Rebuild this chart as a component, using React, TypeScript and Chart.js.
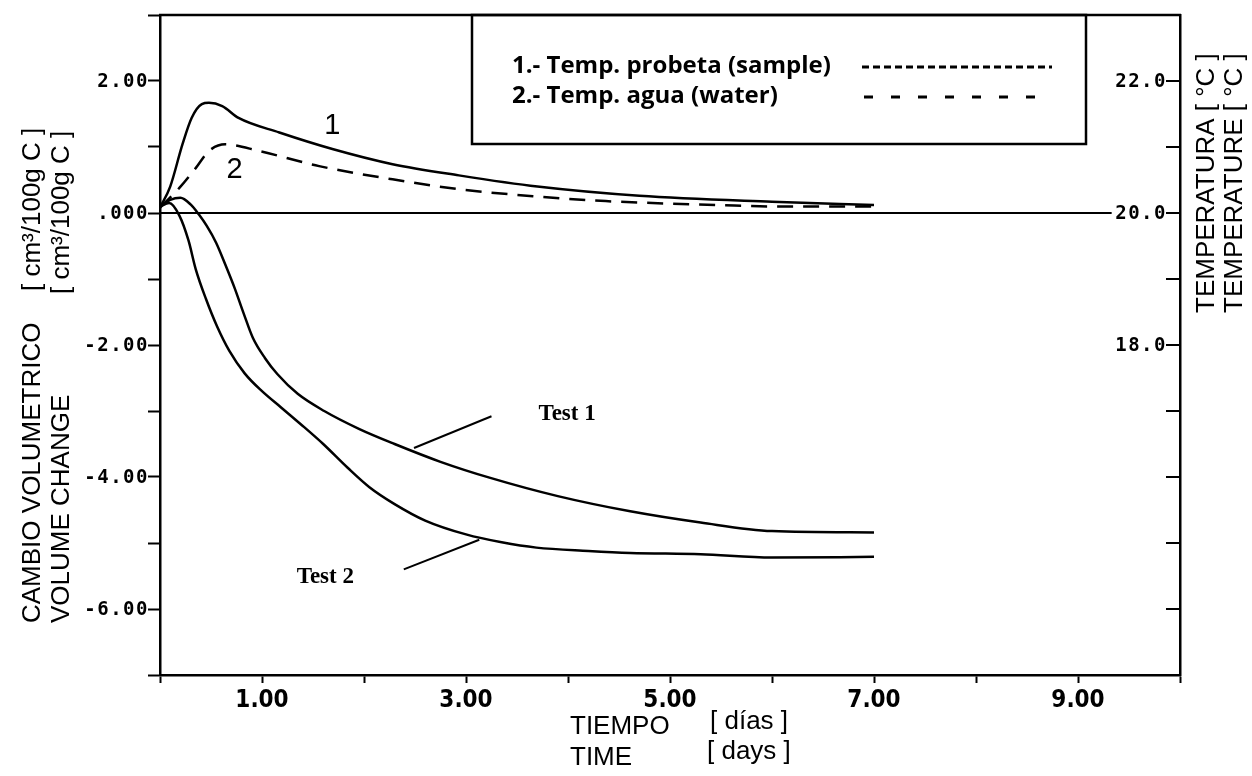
import React, { useEffect, useRef } from 'react';
import { Chart, registerables, Plugin } from 'chart.js';

Chart.register(...registerables);

// volume change, cm3/100g C, against time in days
const test1Days = [0, 0.1, 0.2, 0.3, 0.38, 0.46, 0.55, 0.64, 0.73, 0.82, 0.91, 1.03, 1.15, 1.35, 1.61, 1.95, 2.3, 2.75, 3.23, 3.9, 4.61, 5.3, 6.0, 7.0];
const test1Change = [0.1, 0.2, 0.23, 0.13, -0.02, -0.2, -0.45, -0.78, -1.13, -1.52, -1.89, -2.2, -2.44, -2.74, -3.0, -3.27, -3.5, -3.77, -4.01, -4.29, -4.52, -4.69, -4.82, -4.84];

const test2Days = [0, 0.09, 0.19, 0.28, 0.35, 0.45, 0.56, 0.68, 0.83, 1.0, 1.19, 1.38, 1.6, 1.84, 2.05, 2.3, 2.6, 3.0, 3.35, 3.69, 4.2, 4.61, 5.3, 6.0, 7.0];
const test2Change = [0.1, 0.15, -0.04, -0.42, -0.85, -1.3, -1.72, -2.09, -2.43, -2.7, -2.95, -3.2, -3.5, -3.86, -4.15, -4.41, -4.66, -4.87, -4.99, -5.07, -5.12, -5.15, -5.17, -5.22, -5.21];

// temperatures, °C
const sampleDays = [0, 0.1, 0.22, 0.31, 0.41, 0.48, 0.61, 0.77, 1.17, 1.69, 2.28, 2.93, 3.7, 4.7, 6.0, 7.0];
const sampleTemp = [20.08, 20.4, 21.04, 21.44, 21.65, 21.67, 21.62, 21.44, 21.22, 20.97, 20.74, 20.57, 20.4, 20.26, 20.17, 20.12];

const waterDays = [0, 0.19, 0.35, 0.48, 0.64, 0.97, 1.56, 2.28, 2.93, 3.7, 4.37, 5.5, 6.0, 7.0];
const waterTemp = [20.08, 20.38, 20.68, 20.94, 21.04, 20.94, 20.71, 20.51, 20.36, 20.25, 20.18, 20.12, 20.1, 20.1];

// the zero line stops short of the 20.0 label
const zeroDays = [0, 9.33];
const zeroChange = [0, 0];

const xTickValues = [1, 3, 5, 7, 9];
const xTickLabels = ['1.00', '3.00', '5.00', '7.00', '9.00'];
const leftTickValues = [2, 0, -2, -4, -6];
const leftTickLabels = ['2.00', '.000', '-2.00', '-4.00', '-6.00'];
const rightTickValues = [22, 20, 18];
const rightTickLabels = ['22.0', '20.0', '18.0'];

const legendLabels = ['1.- Temp. probeta (sample)', '2.- Temp. agua (water)'];
const curveNames = ['1', '2'];
const testNames = ['Test 1', 'Test 2'];

const toPoints = (xs: number[], ys: number[]) => xs.map((x, i) => ({ x, y: ys[i] }));

const TITLE_FONT = '26px "Liberation Sans", Arial, sans-serif';
const PLOT_FONT = 'bold 19px "DejaVu Sans Mono", monospace';

const decorations: Plugin<'line'> = {
  id: 'decorations',
  afterDraw(chart) {
    const { ctx, chartArea: a, scales } = chart;
    const xs = scales.x;
    const ys = scales.y;
    const y2 = scales.y2;
    const line = (x1: number, y1: number, x2: number, y2_: number) => {
      ctx.beginPath();
      ctx.moveTo(x1, y1);
      ctx.lineTo(x2, y2_);
      ctx.stroke();
    };

    ctx.save();
    ctx.strokeStyle = '#000';
    ctx.fillStyle = '#000';
    ctx.lineWidth = 2.5;

    // top of the frame
    line(a.left - 1, a.top, a.right + 1, a.top);

    // right axis ticks point inwards
    ctx.lineWidth = 2;
    y2.ticks.forEach((t) => {
      const py = y2.getPixelForValue(t.value);
      line(a.right - 14, py, a.right, py);
    });

    // plotter style tick labels
    ctx.font = PLOT_FONT;
    (ctx as any).letterSpacing = '1.5px';
    ctx.textAlign = 'right';
    ctx.textBaseline = 'middle';
    leftTickValues.forEach((v, i) => {
      ctx.fillText(leftTickLabels[i], a.left - 11, ys.getPixelForValue(v) + 1);
    });
    rightTickValues.forEach((v, i) => {
      ctx.fillText(rightTickLabels[i], a.right - 13, y2.getPixelForValue(v) + 1);
    });
    (ctx as any).letterSpacing = '0px';

    // legend box
    const bx0 = a.left + 312;
    const bx1 = a.left + 926;
    const by1 = a.top + 129;
    ctx.lineWidth = 2.5;
    ctx.strokeRect(bx0, a.top, bx1 - bx0, by1 - a.top);
    ctx.font = 'bold 24px "Open Sans", sans-serif';
    ctx.textAlign = 'left';
    const rows = [a.top + 51, a.top + 81];
    legendLabels.forEach((label, i) => ctx.fillText(label, bx0 + 40, rows[i]));
    ctx.lineWidth = 3;
    ctx.setLineDash([7, 4]);
    line(bx0 + 390, rows[0] + 1, bx0 + 580, rows[0] + 1);
    ctx.setLineDash([9, 18]);
    line(bx0 + 392, rows[1] + 1, bx0 + 568, rows[1] + 1);
    ctx.setLineDash([]);

    // curve numbers
    ctx.font = '29px "Liberation Sans", Arial, sans-serif';
    ctx.textAlign = 'center';
    ctx.fillText(curveNames[0], xs.getPixelForValue(1.69), ys.getPixelForValue(1.32));
    ctx.fillText(curveNames[1], xs.getPixelForValue(0.73), ys.getPixelForValue(0.65));

    // test labels with pointer lines
    ctx.lineWidth = 2;
    line(xs.getPixelForValue(2.49), ys.getPixelForValue(-3.56), xs.getPixelForValue(3.25), ys.getPixelForValue(-3.08));
    line(xs.getPixelForValue(2.39), ys.getPixelForValue(-5.4), xs.getPixelForValue(3.13), ys.getPixelForValue(-4.95));
    ctx.font = 'bold 23px "Liberation Serif", "Times New Roman", serif';
    ctx.textAlign = 'left';
    ctx.fillText(testNames[0], xs.getPixelForValue(3.71), ys.getPixelForValue(-3.05));
    ctx.fillText(testNames[1], xs.getPixelForValue(1.34), ys.getPixelForValue(-5.52));

    // axis titles
    ctx.font = TITLE_FONT;
    ctx.textAlign = 'left';
    const vertical = (text: string, cx: number, startY: number) => {
      ctx.save();
      ctx.translate(cx, startY);
      ctx.rotate(-Math.PI / 2);
      ctx.fillText(text, 0, 0);
      ctx.restore();
    };
    vertical('CAMBIO VOLUMETRICO', a.left - 127, a.top + 608);
    vertical('[ cm³/100g C ]', a.left - 127, a.top + 276);
    vertical('VOLUME CHANGE', a.left - 98, a.top + 608);
    vertical('[ cm³/100g C ]', a.left - 98, a.top + 279);
    vertical('TEMPERATURA [ °C ]', a.right + 27, a.top + 298);
    vertical('TEMPERATURE [ °C ]', a.right + 55, a.top + 298);

    ctx.fillText('TIEMPO', a.left + 410, a.bottom + 52);
    ctx.fillText('[ días ]', a.left + 550, a.bottom + 47);
    ctx.fillText('TIME', a.left + 410, a.bottom + 83);
    ctx.fillText('[ days ]', a.left + 547, a.bottom + 77);

    ctx.restore();
  },
};

const App = () => {
  const canvasRef = useRef<HTMLCanvasElement>(null);

  useEffect(() => {
    document.body.style.margin = '0';
    const ctx = canvasRef.current?.getContext('2d');
    if (!ctx) return;

    const curve = (label: string, data: { x: number; y: number }[], axis: string, extra = {}) => ({
      label,
      data,
      yAxisID: axis,
      borderColor: '#000',
      borderWidth: 2.5,
      pointRadius: 0,
      fill: false,
      cubicInterpolationMode: 'monotone' as const,
      ...extra,
    });

    const chart = new Chart(ctx, {
      type: 'line',
      data: {
        datasets: [
          curve('Test 1', toPoints(test1Days, test1Change), 'y'),
          curve('Test 2', toPoints(test2Days, test2Change), 'y'),
          curve('Temp. probeta (sample)', toPoints(sampleDays, sampleTemp), 'y2'),
          curve('Temp. agua (water)', toPoints(waterDays, waterTemp), 'y2', { borderDash: [16, 10] }),
          curve('zero', toPoints(zeroDays, zeroChange), 'y', { borderWidth: 2 }),
        ],
      },
      options: {
        animation: false,
        responsive: true,
        maintainAspectRatio: false,
        devicePixelRatio: 1,
        layout: { padding: { top: 15, left: 0, right: 0, bottom: 0 } },
        plugins: {
          legend: { display: false },
          tooltip: { enabled: false },
        },
        scales: {
          x: {
            type: 'linear',
            min: 0,
            max: 10,
            afterFit: (scale) => {
              scale.height = 101;
            },
            ticks: {
              stepSize: 1,
              autoSkip: false,
              maxRotation: 0,
              padding: 3,
              color: '#000',
              font: { family: '"DejaVu Sans Condensed", "Liberation Sans", sans-serif', size: 24, weight: 'bold' },
              callback: (value) => {
                const i = xTickValues.indexOf(Number(value));
                return i >= 0 ? xTickLabels[i] : '';
              },
            },
            grid: { drawOnChartArea: false, tickLength: 8, tickWidth: 2, tickColor: '#000' },
            border: { color: '#000', width: 2.5 },
          },
          y: {
            type: 'linear',
            position: 'left',
            min: -7,
            max: 3,
            afterFit: (scale) => {
              scale.width = 160;
            },
            ticks: { stepSize: 1, display: false },
            grid: { drawOnChartArea: false, tickLength: 12, tickWidth: 2, tickColor: '#000' },
            border: { color: '#000', width: 2.5 },
          },
          y2: {
            type: 'linear',
            position: 'right',
            min: 13,
            max: 23,
            afterFit: (scale) => {
              scale.width = 72;
            },
            ticks: { stepSize: 1, display: false },
            grid: { drawOnChartArea: false, drawTicks: false },
            border: { color: '#000', width: 2.5 },
          },
        },
      },
      plugins: [decorations],
    });

    return () => {
      chart.destroy();
    };
  }, []);

  return (
    <div style={{ position: 'relative', width: 1252, height: 776, background: '#fff' }}>
      <canvas ref={canvasRef}></canvas>
    </div>
  );
};

export default App;
